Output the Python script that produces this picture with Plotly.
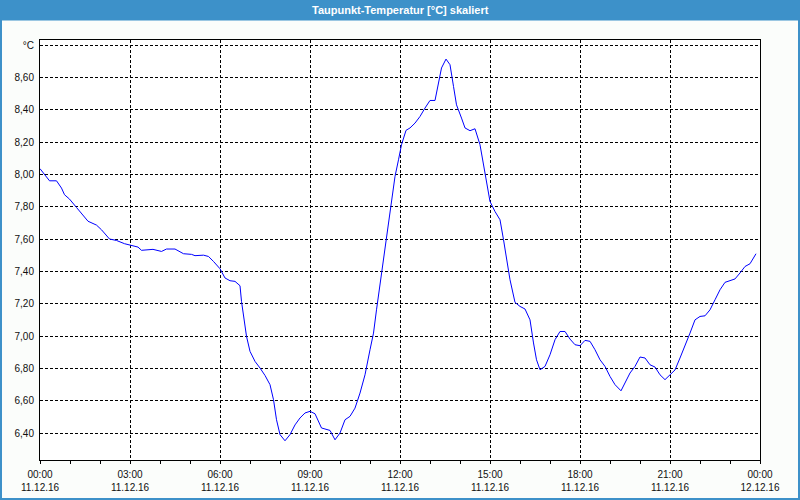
import plotly.graph_objects as go

# time of day (11.12.16) and dew point values [°C]
times = ["00:00","00:09","00:19","00:33","00:43","00:49","00:59","01:13","01:23","01:36",
         "01:53","02:03","02:19","02:33","02:49","03:06","03:16","03:23","03:46","04:03",
         "04:13","04:30","04:47","05:03","05:10","05:27","05:37","05:47","06:00","06:10",
         "06:20","06:30","06:40","06:43","06:47","06:53","07:00","07:10","07:20","07:30",
         "07:40","07:47","07:53","08:00","08:10","08:20","08:30","08:40","08:50","09:00",
         "09:10","09:17","09:23","09:40","09:50","10:00","10:10","10:20","10:30","10:40",
         "10:50","11:00","11:07","11:13","11:20","11:27","11:33","11:37","11:43","11:50",
         "11:57","12:03","12:12","12:20","12:30","12:40","12:50","13:00","13:10","13:17",
         "13:23","13:32","13:40","13:47","13:53","14:03","14:10","14:20","14:30","14:40",
         "14:50","15:00","15:10","15:20","15:27","15:33","15:40","15:50","16:00","16:10",
         "16:20","16:27","16:33","16:40","16:50","17:00","17:10","17:20","17:30","17:40",
         "17:50","18:00","18:10","18:20","18:30","18:40","18:50","19:00","19:10","19:22",
         "19:30","19:40","19:50","20:00","20:10","20:20","20:30","20:40","20:50","21:00",
         "21:10","21:20","21:30","21:40","21:50","22:00","22:10","22:20","22:30","22:40",
         "22:50","23:00","23:10","23:20","23:30","23:40","23:47","23:52"]
values = [8.035,7.998,7.960,7.960,7.915,7.874,7.847,7.795,7.760,7.710,
          7.686,7.657,7.600,7.591,7.571,7.560,7.550,7.530,7.536,7.523,
          7.538,7.538,7.509,7.505,7.497,7.500,7.492,7.461,7.416,7.359,
          7.342,7.338,7.311,7.214,7.121,6.998,6.905,6.843,6.802,6.756,
          6.699,6.606,6.482,6.390,6.352,6.390,6.450,6.493,6.524,6.534,
          6.519,6.472,6.431,6.416,6.358,6.400,6.482,6.503,6.554,6.647,
          6.760,6.915,7.018,7.162,7.317,7.472,7.596,7.678,7.843,7.987,
          8.090,8.183,8.272,8.287,8.317,8.358,8.410,8.457,8.457,8.575,
          8.658,8.713,8.678,8.544,8.430,8.348,8.287,8.270,8.282,8.183,
          8.008,7.832,7.770,7.719,7.596,7.472,7.348,7.208,7.183,7.167,
          7.100,6.957,6.853,6.791,6.812,6.884,6.977,7.028,7.028,6.981,
          6.946,6.940,6.973,6.967,6.915,6.853,6.812,6.750,6.699,6.661,
          6.709,6.771,6.812,6.870,6.864,6.822,6.808,6.760,6.730,6.760,
          6.790,6.864,6.936,7.018,7.100,7.121,7.125,7.162,7.224,7.286,
          7.332,7.344,7.353,7.390,7.430,7.447,7.482,7.509]

x_tick_vals = ["2016-12-11 00:00","2016-12-11 03:00","2016-12-11 06:00","2016-12-11 09:00",
               "2016-12-11 12:00","2016-12-11 15:00","2016-12-11 18:00","2016-12-11 21:00",
               "2016-12-12 00:00"]
x_tick_text = ["00:00<br>11.12.16","03:00<br>11.12.16","06:00<br>11.12.16","09:00<br>11.12.16",
               "12:00<br>11.12.16","15:00<br>11.12.16","18:00<br>11.12.16","21:00<br>11.12.16",
               "00:00<br>12.12.16"]
y_tick_vals = [6.4, 6.6, 6.8, 7.0, 7.2, 7.4, 7.6, 7.8, 8.0, 8.2, 8.4, 8.6, 8.8]
y_tick_text = ["6,40","6,60","6,80","7,00","7,20","7,40","7,60","7,80","8,00","8,20","8,40","8,60","°C"]
title_text = "Taupunkt-Temperatur [°C] skaliert"

x_dt = ["2016-12-11 " + t for t in times]

BLUE = "#3d91c9"
FONT = "Liberation Sans"

fig = go.Figure()
fig.add_trace(go.Scatter(x=x_dt, y=values, mode="lines",
                         line=dict(color="#0000ff", width=1), hoverinfo="skip"))

fig.update_layout(
    width=800, height=500,
    margin=dict(l=40, r=40, t=40, b=40, autoexpand=False),
    paper_bgcolor="#fbfdfb", plot_bgcolor="#ffffff",
    showlegend=False,
    font=dict(family=FONT, size=10, color="#101010"),
)
fig.update_xaxes(
    type="date", range=["2016-12-11 00:00", "2016-12-12 00:00"],
    tickmode="array", tickvals=x_tick_vals, ticktext=x_tick_text,
    ticks="outside", ticklen=3, tickcolor="black", ticklabelstandoff=2,
    minor=dict(dtick=3600000, ticks="outside", ticklen=3, tickcolor="black", showgrid=False),
    showgrid=True, gridcolor="black", gridwidth=1, griddash="3px,2px",
    showline=True, linecolor="black", linewidth=1, mirror=True,
    zeroline=False, fixedrange=True, automargin=False,
)
fig.update_yaxes(
    range=[6.233, 8.831],
    tickmode="array", tickvals=y_tick_vals, ticktext=y_tick_text,
    ticks="", ticklabelstandoff=3,
    showgrid=True, gridcolor="black", gridwidth=1, griddash="3px,2px",
    showline=True, linecolor="black", linewidth=1, mirror=True,
    zeroline=False, fixedrange=True, automargin=False,
)

# title bar and frame
fig.add_shape(type="rect", xref="paper", yref="paper",
              x0=-40/720, x1=1+40/720, y0=1+19.5/420, y1=1+40/420,
              fillcolor=BLUE, line=dict(width=0), layer="below")
fig.add_shape(type="rect", xref="paper", yref="paper",
              x0=-39/720, x1=1+39/720, y0=-39/420, y1=1+40/420,
              fillcolor="rgba(0,0,0,0)", line=dict(color=BLUE, width=2))
fig.add_annotation(text="<b>" + title_text + "</b>", xref="paper", yref="paper",
                   x=0.5, y=1+30/420, showarrow=False, xanchor="center", yanchor="middle",
                   font=dict(family=FONT, size=11, color="white"))

fig.write_html("out.html", config={"displayModeBar": False},
               post_script="document.body.style.margin='0';")
